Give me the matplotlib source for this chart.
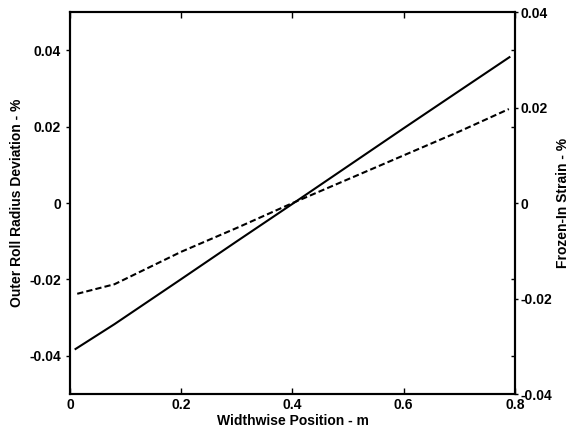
import matplotlib
matplotlib.use('Agg')
import matplotlib.pyplot as plt

# solid: outer roll radius deviation (left axis)
x_solid = [0.01, 0.08, 0.2, 0.3, 0.4, 0.5, 0.6, 0.7, 0.79]
y_solid = [-0.0382, -0.0317, -0.0199, -0.0100, -0.0002, 0.0097, 0.0196, 0.0294, 0.0382]

# dashed: frozen-in strain (right axis)
x_dash = [0.013, 0.08, 0.2, 0.3, 0.4, 0.5, 0.6, 0.7, 0.789]
y_dash = [-0.0190, -0.0170, -0.0102, -0.0052, 0.0000, 0.0050, 0.0100, 0.0150, 0.0197]

yticks = [-0.04, -0.02, 0, 0.02, 0.04]
ytick_labels = ['-0.04', '-0.02', '0', '0.02', '0.04']
xticks = [0, 0.2, 0.4, 0.6, 0.8]
xtick_labels = ['0', '0.2', '0.4', '0.6', '0.8']

plt.rcParams['font.family'] = ['Liberation Sans', 'DejaVu Sans']
plt.rcParams['font.weight'] = 'bold'

fig = plt.figure(figsize=(5.7, 4.33), dpi=100)
ax = fig.add_axes([0.1228, 0.090, 0.7807, 0.882])
ax2 = ax.twinx()

ax.plot(x_solid, y_solid, color='black', lw=1.5)
ax2.plot(x_dash, y_dash, color='black', lw=1.5, ls=(0, (3, 1.5)))

ax.set_xlim(0, 0.8)
ax.set_ylim(-0.05, 0.05)
ax2.set_ylim(-0.04, 0.04)

ax.set_xticks(xticks)
ax.set_xticklabels(xtick_labels)
ax.set_yticks(yticks)
ax.set_yticklabels(ytick_labels)
ax2.set_yticks(yticks)
ax2.set_yticklabels(ytick_labels)
# left-axis tick positions repeated inside the right spine
ax2.set_yticks([t * 0.8 for t in yticks if t != 0], minor=True)

ax.tick_params(axis='x', direction='in', top=True, length=4, width=1, labelsize=10, pad=3)
ax.tick_params(axis='y', direction='out', length=3, width=1, labelsize=10)
ax2.tick_params(axis='y', which='major', direction='out', length=2, width=1, labelsize=10, pad=2)
ax2.tick_params(axis='y', which='minor', direction='in', length=3, width=1)

for a in (ax, ax2):
    for s in a.spines.values():
        s.set_linewidth(1.5)

ax.set_xlabel('Widthwise Position - m', fontsize=10, fontweight='bold', labelpad=1)
ax.set_ylabel('Outer Roll Radius Deviation - %', fontsize=10, fontweight='bold', labelpad=4)
ax2.set_ylabel('Frozen-In Strain - %', fontsize=10, fontweight='bold', labelpad=3)

fig.savefig('out.png', dpi=100)
